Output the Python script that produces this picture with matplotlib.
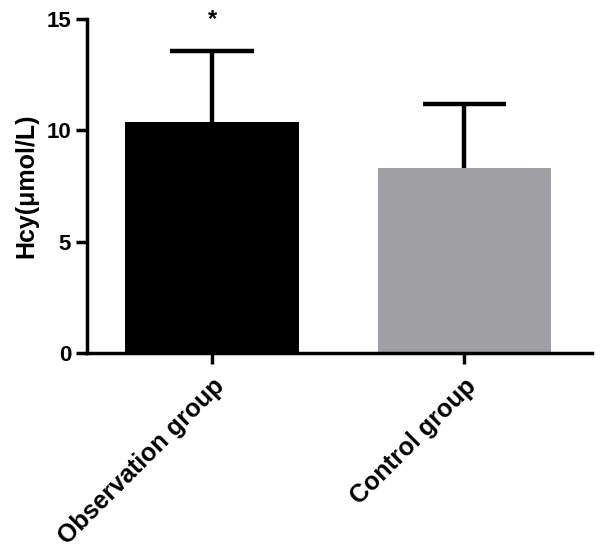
import matplotlib.pyplot as plt
import numpy as np

plt.rcParams['font.family'] = ['Liberation Sans', 'DejaVu Sans']

groups = ['Observation group', 'Control group']
means = [10.4, 8.33]
sd_upper = [3.16, 2.84]
bar_colors = ['#000000', '#a0a0a4']
y_ticks = [0, 5, 10, 15]

fig = plt.figure(figsize=(6, 5.49), dpi=100)
ax = fig.add_axes([0.145, 0.357, 0.842, 0.608])

x = np.arange(len(groups))
tops = np.array(means) + np.array(sd_upper)
ax.bar(x, means, width=0.687, color=bar_colors, zorder=2)
# upper-only error bars
ax.vlines(x, means, tops, color='black', linewidth=3.2, zorder=1)
ax.hlines(tops, x - 0.165, x + 0.165, color='black', linewidth=3.2, zorder=1)

# significance marker
ax.text(x[0], 15.0, '*', ha='center', va='center',
        fontsize=17, fontweight='bold')

ax.set_xlim(-0.496, 1.508)
ax.set_ylim(0, 15)
ax.set_yticks(y_ticks)
ax.set_xticks(x)
ax.set_xticklabels(groups, rotation=45, ha='right', rotation_mode='anchor',
                   fontsize=18, fontweight='bold')
ax.set_yticklabels([str(t) for t in y_ticks], fontsize=16, fontweight='bold')
ax.set_ylabel('Hcy(μmol/L)', fontsize=18, fontweight='bold', labelpad=6)

for s in ['top', 'right']:
    ax.spines[s].set_visible(False)
for s in ['left', 'bottom']:
    ax.spines[s].set_linewidth(2.5)
ax.tick_params(axis='both', width=2.5, length=8, direction='out')
ax.tick_params(axis='x', pad=7)

fig.savefig('out.png', dpi=100)
